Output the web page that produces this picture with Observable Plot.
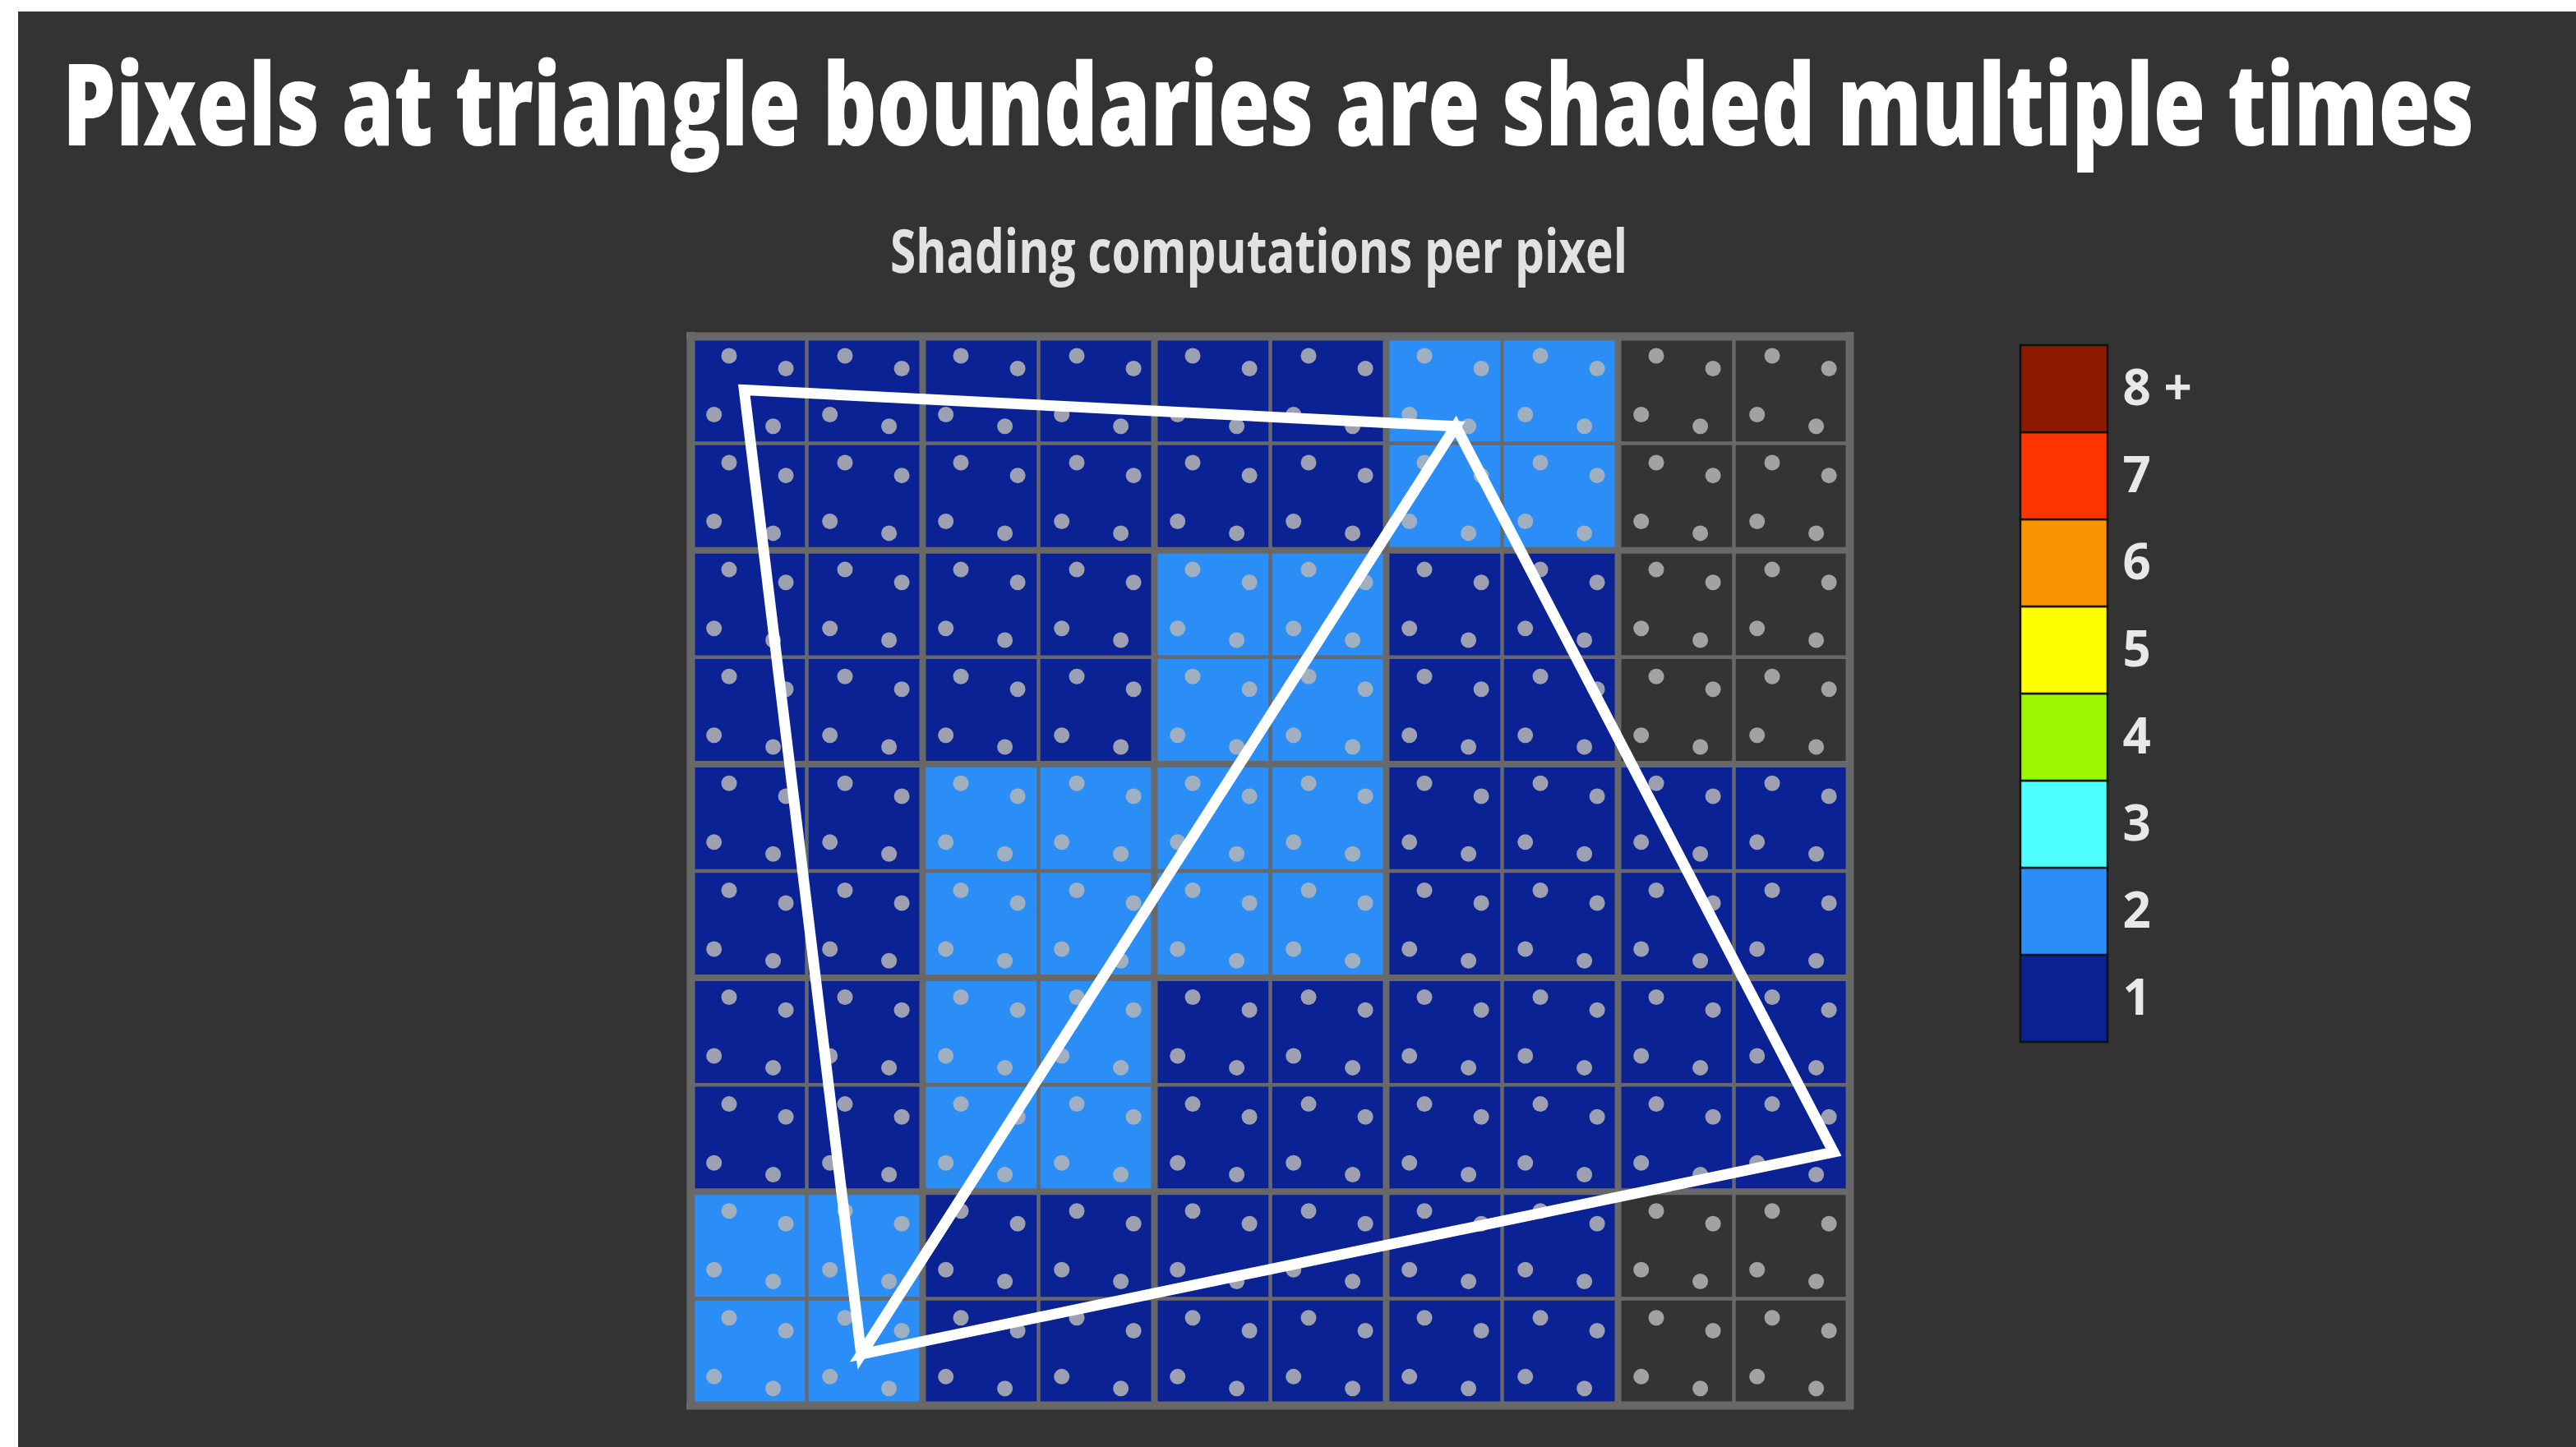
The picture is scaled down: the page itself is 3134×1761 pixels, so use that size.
<!DOCTYPE html>
<html><head><meta charset="utf-8">
<script src="https://cdn.jsdelivr.net/npm/d3@7"></script>
<script src="https://cdn.jsdelivr.net/npm/@observablehq/plot@0.6"></script>
<style>
html,body{margin:0;padding:0;background:#ffffff;width:3134px;height:1761px;overflow:hidden;}
#panel{position:absolute;left:22px;top:14px;width:3112px;height:1747px;background:#333333;}
.t{position:absolute;white-space:nowrap;font-family:"Open Sans",sans-serif;font-weight:800;line-height:1;transform-origin:0 0;}
#title{left:76px;top:54px;font-size:139px;color:#ffffff;}
#subtitle{left:1083px;top:267px;font-size:74px;color:#e2e2e2;font-weight:700;}
#chart{position:absolute;left:800px;top:370px;}
#legend{position:absolute;left:2450px;top:410px;}
</style></head><body>
<div id="panel"></div>
<div id="title" class="t">Pixels at triangle boundaries are shaded multiple times</div>
<div id="subtitle" class="t">Shading computations per pixel</div>
<div id="chart"></div>
<div id="legend"></div>
<script>
// ---- data ----
const pixelCols = [0,1,2,3,4,5,6,7,8,9];
const pixelRows = [0,1,2,3,4,5,6,7,8,9];
// shading computations per pixel (0 = not covered), rows top to bottom
const shadingCounts = [
  [1,1,1,1,1,1,2,2,0,0],
  [1,1,1,1,1,1,2,2,0,0],
  [1,1,1,1,2,2,1,1,0,0],
  [1,1,1,1,2,2,1,1,0,0],
  [1,1,2,2,2,2,1,1,1,1],
  [1,1,2,2,2,2,1,1,1,1],
  [1,1,2,2,1,1,1,1,1,1],
  [1,1,2,2,1,1,1,1,1,1],
  [2,2,1,1,1,1,1,1,0,0],
  [2,2,1,1,1,1,1,1,0,0]
];
// sample locations inside each pixel (pixel units)
const samplePattern = [[0.33,0.18],[0.82,0.30],[0.20,0.73],[0.71,0.84]];
// triangle vertices in pixel units
const triangleA = [[0.46,0.50],[6.60,0.84],[1.47,9.52]];
const triangleB = [[6.60,0.84],[9.86,7.63],[1.47,9.52]];
const gridLines = [0,1,2,3,4,5,6,7,8,9,10];
// legend
const legendLevels = [1,2,3,4,5,6,7,8];
const legendLabels = ["1","2","3","4","5","6","7","8 +"];
const levelColors = ["#0a2293","#2b8ef6","#4dffff","#9cf800","#ffff00","#fa9400","#ff3300","#8c1a00"];
const emptyColor = "#343434";

// ---- derived tables ----
const cells = pixelRows.flatMap(r => pixelCols.map(c => ({col: c, row: r, count: shadingCounts[r][c]})));
const samples = cells.flatMap(p => samplePattern.map(([dx, dy]) => ({x: p.col + dx, y: p.row + dy})));
const triRows = [
  ...triangleA.map(([x, y]) => ({tri: "A", x, y})),
  ...triangleB.map(([x, y]) => ({tri: "B", x, y}))
];
const lineWidth = v => (v === 0 || v === 10) ? 10 : (v % 2 === 0 ? 8 : 4.5);

const chart = Plot.plot({
  width: 1500, height: 1380,
  marginLeft: 40, marginRight: 50, marginTop: 39, marginBottom: 40,
  x: {domain: [0, 10], axis: null},
  y: {domain: [0, 10], reverse: true, axis: null},
  color: {type: "ordinal", domain: [0, ...legendLevels], range: [emptyColor, ...levelColors]},
  style: {background: "transparent"},
  marks: [
    Plot.rect(cells, {x1: "col", x2: d => d.col + 1, y1: "row", y2: d => d.row + 1, fill: "count"}),
    Plot.ruleX(gridLines, {x: d => d, y1: 0, y2: 10, stroke: "#686868", strokeWidth: lineWidth, strokeLinecap: "square"}),
    Plot.ruleY(gridLines, {y: d => d, x1: 0, x2: 10, stroke: "#686868", strokeWidth: lineWidth, strokeLinecap: "square"}),
    Plot.dot(samples, {x: "x", y: "y", r: 9.5, fill: "#b6b6b6", fillOpacity: 0.85, stroke: null}),
    Plot.line(triRows, {x: "x", y: "y", z: "tri", curve: "linear-closed", stroke: "#ffffff",
      strokeWidth: 13, strokeLinejoin: "miter", strokeMiterlimit: 10})
  ]
});
document.getElementById("chart").appendChild(chart);

const legendRows = legendLevels.map((v, i) => ({level: v, label: legendLabels[i]}));
const legend = Plot.plot({
  width: 300, height: 870,
  marginLeft: 8, marginRight: 186, marginTop: 8, marginBottom: 10,
  x: {domain: [0, 1], axis: null},
  y: {domain: [...legendLabels].reverse(), padding: 0, axis: null, label: null},
  color: {type: "ordinal", domain: legendLevels, range: levelColors},
  style: {background: "transparent", fontFamily: "'Open Sans', sans-serif", fontWeight: 700, color: "#e8e8e8"},
  marks: [
    Plot.barX(legendRows, {x1: 0, x2: 1, y: "label", fill: "level", stroke: "#111111", strokeWidth: 2.5}),
    Plot.axisY({anchor: "right", label: null, tickSize: 0, tickPadding: 18, fontSize: 60, fontWeight: 700})
  ]
});
document.getElementById("legend").appendChild(legend);

function fit(id, w) {
  const el = document.getElementById(id);
  el.style.transform = "none";
  const cur = el.getBoundingClientRect().width;
  el.style.transform = "scaleX(" + (w / cur) + ")";
}
function fitAll() { fit("title", 2934); fit("subtitle", 897); }
fitAll();
if (document.fonts && document.fonts.ready) document.fonts.ready.then(fitAll);
</script>
</body></html>
